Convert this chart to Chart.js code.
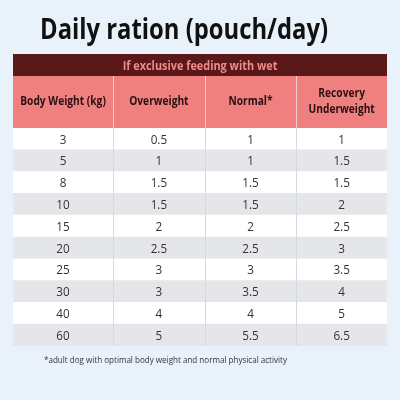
<!DOCTYPE html>
<html><head><meta charset="utf-8">
<script src="https://cdn.jsdelivr.net/npm/chart.js@4"></script>
<style>html,body{margin:0;padding:0;background:#e9f1fb;}#c{display:block}</style>
</head><body>
<div style="width:400px;height:400px"><canvas id="c"></canvas></div>
<script>
const title = "Daily ration (pouch/day)";
const subtitle = "If exclusive feeding with wet";
const headers = [["Body Weight (kg)"],["Overweight"],["Normal*"],["Recovery","Underweight"]];
const weights = ["3","5","8","10","15","20","25","30","40","60"];
const overweight = ["0.5","1","1.5","1.5","2","2.5","3","3","4","5"];
const normal = ["1","1","1.5","1.5","2","2.5","3","3.5","4","5.5"];
const underweight = ["1","1.5","1.5","2","2.5","3","3.5","4","5","6.5"];
const footnote = "*adult dog with optimal body weight and normal physical activity";
const colEdges = [0, 1.07, 2.05, 3.03, 4];
const columns = [weights, overweight, normal, underweight];

function condensed(ctx, text, cx, cy, k){
  ctx.save(); ctx.translate(cx, cy); ctx.scale(k,1); ctx.fillText(text,0,0); ctx.restore();
}

const tablePlugin = {
  id:'table',
  afterDatasetsDraw(chart){
    const ctx = chart.ctx, x = chart.scales.x, y = chart.scales.y, a = chart.chartArea;
    const L = a.left, R = a.right;
    ctx.save();
    ctx.fillStyle = '#111';
    ctx.font = 'bold 29px "Open Sans"';
    ctx.textBaseline = 'middle'; ctx.textAlign = 'left';
    ctx.fillText(title, 40, 31, 288);
    const top = 54, hTop = 76, hBot = a.top;
    ctx.fillStyle = '#5b1818'; ctx.fillRect(L, top, R-L, hTop-top);
    ctx.fillStyle = '#f08b8b'; ctx.font = 'bold 12.5px "Open Sans"'; ctx.textAlign='center';
    condensed(ctx, subtitle, (L+R)/2, (top+hTop)/2+1, 0.87);
    ctx.fillStyle = '#f08080'; ctx.fillRect(L, hTop, R-L, hBot-hTop);
    ctx.fillStyle = '#2a1010'; ctx.font = 'bold 12px "Open Sans"';
    headers.forEach((h,i)=>{
      const cx = (x.getPixelForValue(colEdges[i])+x.getPixelForValue(colEdges[i+1]))/2;
      const cy = (hTop+hBot)/2;
      h.forEach((line,j)=>condensed(ctx, line, cx, cy + (j-(h.length-1)/2)*16, 0.85));
    });
    ctx.strokeStyle = 'rgba(255,255,255,0.6)'; ctx.lineWidth = 1;
    for(let i=1;i<4;i++){const px=Math.round(x.getPixelForValue(colEdges[i]))+0.5;
      ctx.beginPath();ctx.moveTo(px,hTop);ctx.lineTo(px,hBot);ctx.stroke();}
    ctx.strokeStyle = '#d6d9dd';
    for(let i=1;i<4;i++){const px=Math.round(x.getPixelForValue(colEdges[i]))+0.5;
      ctx.beginPath();ctx.moveTo(px,a.top);ctx.lineTo(px,a.bottom);ctx.stroke();}
    ctx.fillStyle = '#333'; ctx.font = '13px "Open Sans"';
    columns.forEach((col,i)=>{
      const cx = (x.getPixelForValue(colEdges[i])+x.getPixelForValue(colEdges[i+1]))/2;
      col.forEach((v,r)=>condensed(ctx, v, cx, y.getPixelForValue(r)+1, 0.9));
    });
    ctx.fillStyle = '#333'; ctx.font = '9.5px "Open Sans"'; ctx.textAlign='left';
    ctx.fillText(footnote, 44, 360, 243);
    ctx.restore();
  }
};

new Chart(document.getElementById('c'), {
  type:'bar',
  data:{labels:weights, datasets:[{
    data: weights.map(()=>[0,4]),
    backgroundColor: weights.map((_,i)=> i%2 ? '#e4e6e9' : '#ffffff'),
    borderWidth:0, categoryPercentage:1, barPercentage:1
  }]},
  options:{
    indexAxis:'y', responsive:true, maintainAspectRatio:false, animation:false,
    layout:{padding:{left:13,right:13,top:128,bottom:54}},
    plugins:{legend:{display:false},tooltip:{enabled:false}},
    scales:{x:{type:'linear',min:0,max:4,display:false},y:{display:false}}
  },
  plugins:[tablePlugin]
});
</script>
</body></html>
